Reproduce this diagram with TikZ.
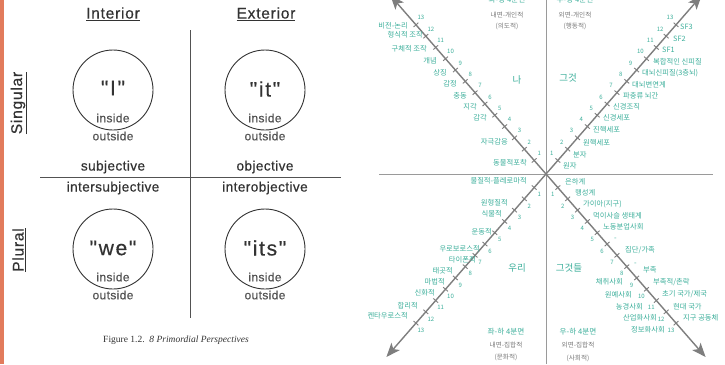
\documentclass[tikz,border=0pt]{standalone}
\usepackage{fontspec}
\setmainfont{Liberation Sans}[Ligatures=TeXOff]
\newfontfamily\lsA{Liberation Sans}[Ligatures=TeXOff, LetterSpace=5, FakeBold=0.5]
\newfontfamily\lsB{Liberation Sans}[Ligatures=TeXOff, LetterSpace=3, FakeBold=0.5]
\newfontfamily\lsC{Liberation Sans}[Ligatures=TeXOff, LetterSpace=8, FakeBold=0.4]
\newfontfamily\capfont{Liberation Serif}
\newfontfamily\kr{Noto Sans CJK KR}
\usetikzlibrary{arrows.meta,calc}
\definecolor{tealk}{HTML}{3CAF9B}
\definecolor{txt}{HTML}{333333}
\definecolor{axis}{HTML}{9A9A9A}
\definecolor{armc}{HTML}{7E7E7E}
\definecolor{barc}{HTML}{E27B5C}
\definecolor{grayk}{HTML}{7A7A7A}
\tikzset{
  head/.style={font=\lsA\fontsize{15.5}{18}\selectfont, text=txt, inner sep=0pt},
  side/.style={font=\lsA\fontsize{15.5}{18}\selectfont, text=txt, inner sep=0pt, rotate=90},
  big/.style={font=\lsC\fontsize{21}{24}\selectfont, text=txt, inner sep=0pt},
  mid/.style={font=\lsB\fontsize{13.6}{16}\selectfont, text=txt, inner sep=0pt},
  io/.style={font=\lsB\fontsize{12}{14}\selectfont, text=txt!85, inner sep=0pt},
  circ/.style={draw=txt, line width=0.9pt, circle, minimum size=80pt, inner sep=0pt},
  divider/.style={draw=txt!85, line width=0.9pt},
  axisline/.style={draw=axis, line width=1pt},
  arm/.style={draw=armc, line width=1.4pt, -{Stealth[length=14pt,width=11pt,inset=3.5pt]}},
  tickm/.style={draw=armc, line width=0.9pt},
  num/.style={font=\kr\fontsize{6}{7}\selectfont, text=tealk, inner sep=0pt},
  lab/.style={font=\kr\fontsize{7.3}{8}\selectfont, text=tealk, inner sep=0pt},
  quad/.style={font=\kr\fontsize{9.5}{12}\selectfont, text=tealk, inner sep=0pt},
  qtitle/.style={font=\kr\fontsize{7.6}{9}\selectfont, text=tealk, inner sep=0pt},
  qdesc/.style={font=\kr\fontsize{6.6}{8}\selectfont, text=grayk, inner sep=0pt},
}
\begin{document}
\begin{tikzpicture}[x=1pt,y=-1pt]
\clip (0,0) rectangle (725,364);
\fill[white] (0,0) rectangle (725,364);
\fill[barc] (0,0) rectangle (4,364);

% ---------------- left panel ----------------
\node[head] (interior) at (113,14) {\underline{Interior}};
\node[head] (exterior) at (266,14) {\underline{Exterior}};
\node[side] (singular) at (19,103) {\underline{Singular}};
\node[side] (plural) at (19,250) {\underline{Plural}};

\coordinate (vt) at (190,30);
\coordinate (vb) at (190,318);
\coordinate (hl) at (40,177);
\coordinate (hr) at (341,177);
\draw[divider] (vt) -- (vb);
\draw[divider] (hl) -- (hr);

\node[circ] (cI) at (113,90) {};
\node[circ] (cIt) at (265,90) {};
\node[circ] (cWe) at (113,249) {};
\node[circ] (cIts) at (265,249) {};

\node[big] (tI) at (113,88) {"I"};
\node[big] (tIt) at (265,89) {"it"};
\node[big] (tWe) at (113,248) {"we"};
\node[big] (tIts) at (265,248) {"its"};

\node[io] (in1) at (113,118) {inside};
\node[io] (out1) at (113,136) {outside};
\node[io] (in2) at (265,118) {inside};
\node[io] (out2) at (265,136) {outside};
\node[io] (in3) at (113,277) {inside};
\node[io] (out3) at (113,295) {outside};
\node[io] (in4) at (265,277) {inside};
\node[io] (out4) at (265,295) {outside};

\node[mid] (subj) at (113,167) {subjective};
\node[mid] (obj) at (265,167) {objective};
\node[mid] (isubj) at (113,188) {intersubjective};
\node[mid] (iobj) at (265,188) {interobjective};

\node[font=\capfont\fontsize{9.5}{11}\selectfont, text=txt, inner sep=0pt] (cap) at (176,340)
  {Figure 1.2.\ \ \textit{8 Primordial Perspectives}};

% ---------------- right panel ----------------
\coordinate (C) at (546,174);
\coordinate (axT) at (546,0);
\coordinate (axB) at (546,364);
\coordinate (axL) at (379,174);
\coordinate (axR) at (713,174);
\draw[axisline] (axT) -- (axB);
\draw[axisline] (axL) -- (axR);

\coordinate (armUL) at ($(C)+(-155.6,-178.5)$);
\coordinate (armUR) at ($(C)+(155.6,-178.5)$);
\coordinate (armLL) at ($(C)+(-159.6,183)$);
\coordinate (armLR) at ($(C)+(159.6,183)$);
\draw[arm] (C) -- (armUL);
\draw[arm] (C) -- (armUR);
\draw[arm] (C) -- (armLL);
\draw[arm] (C) -- (armLR);

\foreach \k in {1,...,13}{
  \pgfmathsetmacro\t{\k+0.2}
  \coordinate (ul\k) at ($(C)+(-9.85*\t,-11.3*\t)$);
  \coordinate (ur\k) at ($(C)+(9.85*\t,-11.3*\t)$);
  \coordinate (ll\k) at ($(C)+(-9.85*\t,11.3*\t)$);
  \coordinate (lr\k) at ($(C)+(9.85*\t,11.3*\t)$);
  \draw[tickm] ($(ul\k)+(2.4,-2.1)$) -- ($(ul\k)+(-2.4,2.1)$);
  \draw[tickm] ($(lr\k)+(2.4,-2.1)$) -- ($(lr\k)+(-2.4,2.1)$);
  \draw[tickm] ($(ur\k)+(2.4,2.1)$) -- ($(ur\k)+(-2.4,-2.1)$);
  \draw[tickm] ($(ll\k)+(2.4,2.1)$) -- ($(ll\k)+(-2.4,-2.1)$);
  \node[num] (ulnum\k) at ($(ul\k)+(5,-7)$) {\k};
  \node[num] (urnum\k) at ($(ur\k)+(-6,-7)$) {\k};
  \node[num] (llnum\k) at ($(ll\k)+(5,7)$) {\k};
  \node[num] (lrnum\k) at ($(lr\k)+(-5,7)$) {\k};
}

% upper-left labels
\foreach \x/\y/\s [count=\n] in {408/26/비전-논리, 423/35/형식적 조작, 427/49/구체적 조작,
  437/61/개념, 447/73/상징, 457/84/감정, 467/96/충동, 477/107/지각, 487/118/감각,
  508/142/자극감응, 527/163/동물적포착}
  \node[lab, anchor=east] (ulLab\n) at (\x,\y) {\s};

% upper-right labels
\foreach \x/\y/\s [count=\n] in {680/27/SF3, 673/39/SF2, 662/50/SF1, 653/62/복합적인 신피질,
  642/73/대뇌신피질(3층뇌), 632/85/대뇌변연계, 623/96/파충류 뇌간, 613/107/신경조직,
  603/118/신경세포, 593/130/진핵세포, 583/143/원핵세포, 573/155/분자, 563/166/원자}
  \node[lab, anchor=west] (urLab\n) at (\x,\y) {\s};

% lower-left labels
\foreach \x/\y/\s [count=\n] in {527/181/물질적-플레로마적, 508/203/원형질적, 502/214/식물적,
  492/232/운동적, 480/249/우로보로스적, 476/260/타이폰적, 453/271/태곳적, 445/282/마법적,
  435/293/신화적, 418/306/합리적, 408/316/켄타우로스적}
  \node[lab, anchor=east] (llLab\n) at (\x,\y) {\s};

% lower-right labels (right of the arm)
\foreach \x/\y/\s [count=\n] in {565/182/은하계, 575/193/행성계, 583/204/가이아(지구),
  593/216/먹이사슬 생태계, 603/227/노동분업사회, 614/239/-, {625}/{250}/{집단/가족},
  634/264/-, 643/270/부족, {653}/{282}/{부족적/촌락}, {662}/{294}/{초기 국가/제국},
  673/307/현대 국가, 683/318/지구 공동체}
  \node[lab, anchor=west] (lrLab\n) at (\x,\y) {\s};

% lower-right labels (left of the arm)
\foreach \x/\y/\s [count=\n] in {623/282/채취사회, 632/295/원예사회, 643/307/농경사회,
  657/318/산업화사회, 665/330/정보화사회}
  \node[lab, anchor=east] (lrLeft\n) at (\x,\y) {\s};

% quadrant names
\node[quad] (qI) at (517,80) {나};
\node[quad] (qIt) at (568,78) {그것};
\node[quad] (qWe) at (517,268) {우리};
\node[quad] (qIts) at (569,268) {그것들};

% quadrant titles and descriptions
\node[qtitle] (tUL) at (507,0) {좌-상 4분면};
\node[qdesc] (dUL1) at (507,15) {내면-개인적};
\node[qdesc] (dUL2) at (507,26) {(의도적)};
\node[qtitle] (tUR) at (575,0) {우-상 4분면};
\node[qdesc] (dUR1) at (575,15) {외면-개인적};
\node[qdesc] (dUR2) at (575,26) {(행동적)};
\node[qtitle] (tLL) at (506,332) {좌-하 4분면};
\node[qdesc] (dLL1) at (506,345) {내면-집합적};
\node[qdesc] (dLL2) at (506,357) {(문화적)};
\node[qtitle] (tLR) at (578,332) {우-하 4분면};
\node[qdesc] (dLR1) at (578,345) {외면-집합적};
\node[qdesc] (dLR2) at (578,358) {(사회적)};
\end{tikzpicture}
\end{document}
